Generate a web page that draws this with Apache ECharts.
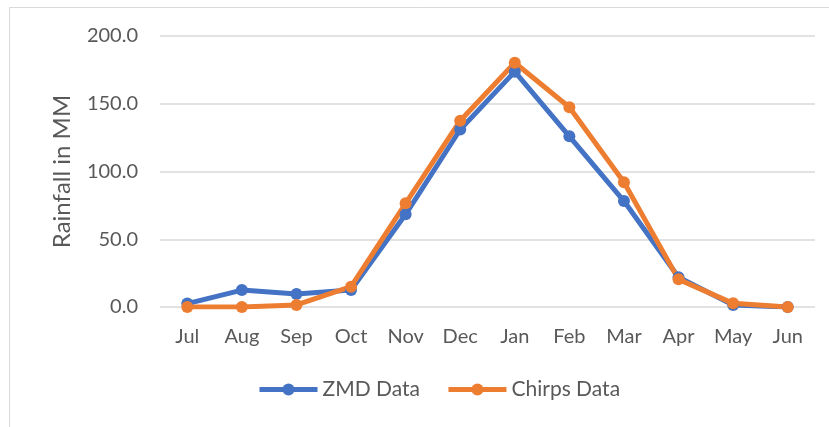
<!DOCTYPE html>
<html>
<head>
<meta charset="utf-8">
<script src="https://cdn.jsdelivr.net/npm/echarts@6/dist/echarts.min.js"></script>
<style>
  html, body { margin: 0; padding: 0; background: #fff; }
  #main { width: 829px; height: 427px; }
</style>
</head>
<body>
<div id="main"></div>
<script>
var months = ['Jul', 'Aug', 'Sep', 'Oct', 'Nov', 'Dec', 'Jan', 'Feb', 'Mar', 'Apr', 'May', 'Jun'];
var zmdData = [2.5, 12.5, 9.6, 12.5, 68.4, 131, 173.7, 126, 78.2, 21.9, 1.5, 0];
var chirpsData = [0, 0, 1.5, 15, 76.5, 137.5, 180.3, 147.4, 92, 20.4, 2.7, 0];

var chart = echarts.init(document.getElementById('main'));
var font = 'Lato, "Liberation Sans", sans-serif';

var option = {
  backgroundColor: '#fff',
  textStyle: { fontFamily: font },
  graphic: [{
    type: 'rect',
    shape: { x: 9.5, y: 7.5, width: 840, height: 440 },
    style: { fill: 'none', stroke: '#d9d9d9', lineWidth: 1 },
    silent: true
  }],
  grid: { left: 160, right: 14, top: 36, bottom: 120 },
  legend: {
    bottom: 22,
    left: 252,
    itemWidth: 58,
    itemHeight: 15,
    itemGap: 26,
    lineStyle: { width: 5 },
    textStyle: { color: '#595959', fontSize: 21, fontFamily: font },
    data: ['ZMD Data', 'Chirps Data']
  },
  xAxis: {
    type: 'category',
    data: months,
    boundaryGap: true,
    axisLine: { show: false },
    axisTick: { show: false },
    axisLabel: { color: '#595959', fontSize: 20, margin: 20 }
  },
  yAxis: {
    type: 'value',
    min: 0,
    max: 200,
    interval: 50,
    name: 'Rainfall in MM',
    nameLocation: 'middle',
    nameGap: 86,
    nameTextStyle: { color: '#595959', fontSize: 24 },
    axisLine: { show: false },
    axisTick: { show: false },
    axisLabel: {
      color: '#595959',
      fontSize: 20,
      margin: 22,
      formatter: function (v) { return v.toFixed(1); }
    },
    splitLine: { lineStyle: { color: '#d9d9d9', width: 1.5 } }
  },
  series: [{
    name: 'ZMD Data',
    type: 'line',
    data: zmdData,
    symbol: 'circle',
    symbolSize: 12,
    color: '#4472C4',
    lineStyle: { width: 5 },
    animation: false
  }, {
    name: 'Chirps Data',
    type: 'line',
    data: chirpsData,
    symbol: 'circle',
    symbolSize: 12,
    color: '#ED7D31',
    lineStyle: { width: 5 },
    animation: false
  }]
};

chart.setOption(option);
</script>
</body>
</html>
